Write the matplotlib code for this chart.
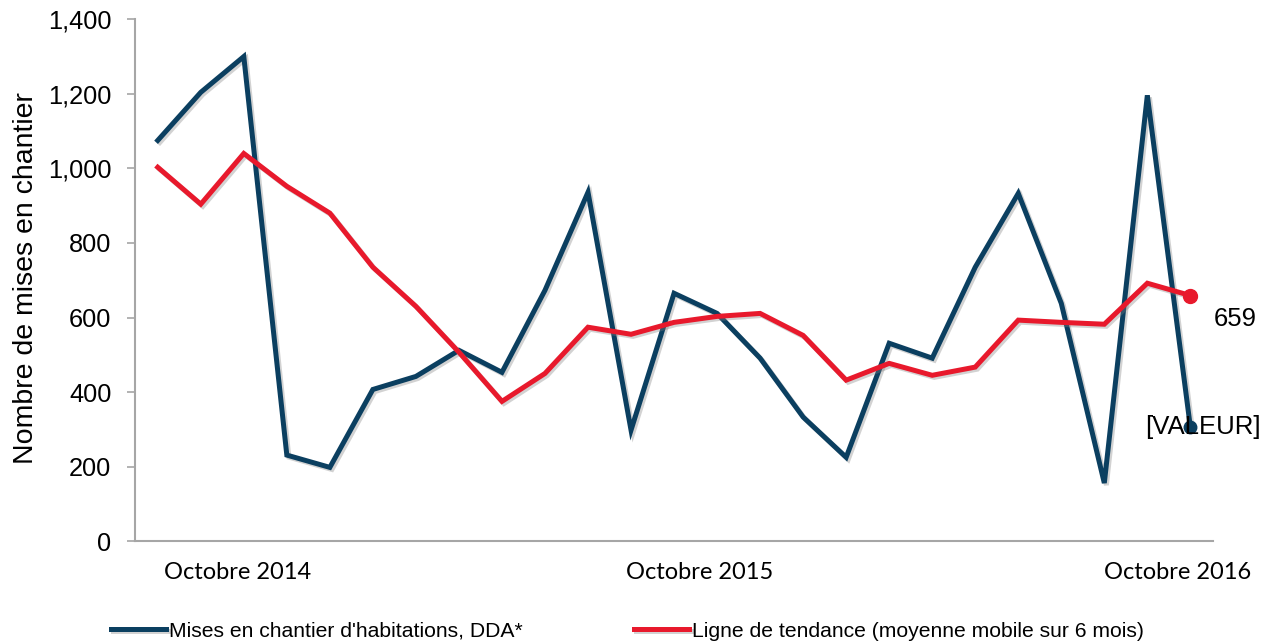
import matplotlib.pyplot as plt
import matplotlib.patheffects as pe

# donnees mensuelles, octobre 2014 -> octobre 2016
mois = list(range(25))
mises_chantier = [1075, 1204, 1300, 231, 198, 407, 442, 512, 453, 673, 936, 298, 665,
                  611, 491, 333, 225, 531, 491, 735, 933, 638, 156, 1196, 306]
tendance = [1003, 904, 1040, 952, 880, 735, 630, 507, 375, 450, 574, 555, 587,
            603, 611, 552, 432, 477, 445, 467, 593, 587, 582, 692, 659]
x_labels = ["Octobre 2014", "Octobre 2015", "Octobre 2016"]
x_label_pos = [1.85, 12.6, 23.7]

plt.rcParams['font.family'] = ['Liberation Sans', 'DejaVu Sans']

bleu = '#0b3f60'
rouge = '#e8192c'
gris = '#a6a6a6'

fig = plt.figure(figsize=(12.73, 6.42), dpi=100)
ax = fig.add_axes([0.106, 0.157, 0.847, 0.813])

ombre = [pe.SimpleLineShadow(offset=(1.5, -1.5), shadow_color='gray', alpha=0.35), pe.Normal()]
l1, = ax.plot(mois, mises_chantier, color=bleu, lw=3.6, solid_joinstyle='miter',
              path_effects=ombre, label="Mises en chantier d'habitations, DDA*")
l2, = ax.plot(mois, tendance, color=rouge, lw=3.6, solid_joinstyle='miter',
              path_effects=ombre, label="Ligne de tendance (moyenne mobile sur 6 mois)")
ax.plot(mois[-1], mises_chantier[-1], 'o', color=bleu, ms=9)
ax.plot(mois[-1], tendance[-1], 'o', color=rouge, ms=10)

ax.annotate("[VALEUR]", (mois[-1], mises_chantier[-1]), xytext=(9, 0),
            textcoords='offset points', ha='center', va='center', fontsize=18.5)
ax.annotate(str(tendance[-1]), (mois[-1], tendance[-1]), xytext=(32, -17),
            textcoords='offset points', ha='center', va='center', fontsize=18.5)

ax.set_xlim(-0.53, 24.53)
ax.set_ylim(0, 1400)
ax.set_yticks(range(0, 1401, 200))
ax.set_yticklabels([f"{v:,}" for v in range(0, 1401, 200)], fontsize=18.3)
ax.set_xticks(x_label_pos)
ax.set_xticklabels(x_labels, fontsize=17, family=['Lato', 'DejaVu Sans'])
ax.tick_params(axis='x', length=0, pad=15)
ax.tick_params(axis='y', length=6, color=gris, width=1.2, pad=11)
ax.set_ylabel("Nombre de mises en chantier", fontsize=20.5)
ax.yaxis.set_label_coords(-0.089, 0.505)

for s in ['top', 'right']:
    ax.spines[s].set_visible(False)
for s in ['left', 'bottom']:
    ax.spines[s].set_color(gris)
    ax.spines[s].set_linewidth(1.5)

fig.legend(handles=[l1, l2], loc='center left', bbox_to_anchor=(0.072, 0.017), ncol=2,
           frameon=False, fontsize=15.2, handlelength=2.6,
           handletextpad=0.15, columnspacing=5.3)

fig.savefig("out.png", dpi=100)
